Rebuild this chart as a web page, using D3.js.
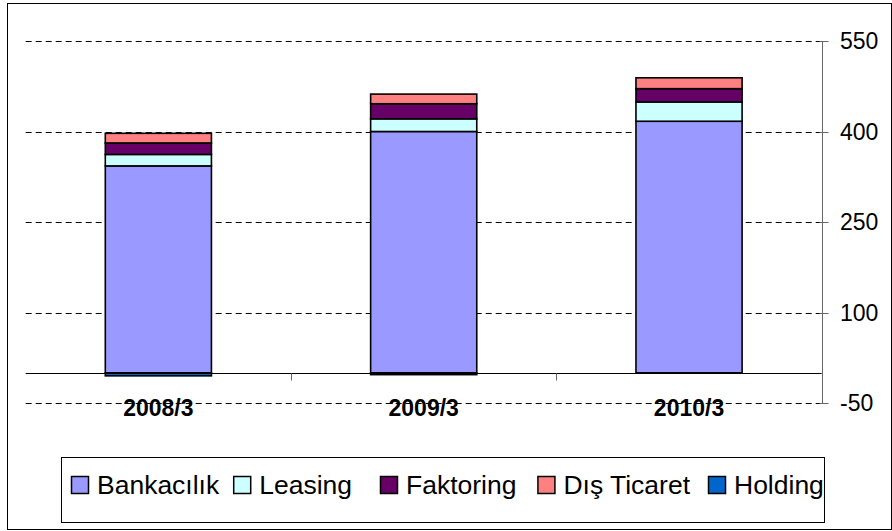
<!DOCTYPE html>
<html>
<head>
<meta charset="utf-8">
<script src="https://cdn.jsdelivr.net/npm/d3@7"></script>
<style>
  html, body { margin: 0; padding: 0; background: #fff; }
  svg { display: block; font-family: "Liberation Sans", Arial, sans-serif; }
</style>
</head>
<body>
<svg id="chart" width="892" height="531"></svg>
<script>
const categories = ["2008/3", "2009/3", "2010/3"];
const seriesNames = ["Bankacılık", "Leasing", "Faktoring", "Dış Ticaret", "Holding"];
const bankacilik = [343, 400, 417];
const leasing = [19, 21, 32];
const faktoring = [19, 25, 22];
const disTicaret = [16, 16, 18];
const holding = [-5, -3, 0];
const tickValues = [-50, 100, 250, 400, 550];
const colors = ["#9999FF", "#CCFFFF", "#660066", "#FF8080", "#0066CC"];

const seriesValues = [bankacilik, leasing, faktoring, disTicaret, holding];
const table = categories.map((c, i) => {
  const row = { cat: c };
  seriesNames.forEach((s, j) => row[s] = seriesValues[j][i]);
  return row;
});

const svg = d3.select("#chart");

// outer border
svg.append("rect").attr("x", 7.5).attr("y", 3.5).attr("width", 884).attr("height", 526)
  .attr("fill", "#fff").attr("stroke", "#000").attr("stroke-width", 1);

const plotLeft = 25.7, plotRight = 821.7;
const x = d3.scaleBand().domain(categories).range([plotLeft, plotRight])
  .paddingInner(0.6).paddingOuter(0.3);
const y = d3.scaleLinear().domain([-50, 550]).range([403, 41]);

// gridlines
svg.append("g").selectAll("line").data(tickValues).join("line")
  .attr("x1", plotLeft).attr("x2", plotRight)
  .attr("y1", d => Math.round(y(d)) + 0.5).attr("y2", d => Math.round(y(d)) + 0.5)
  .attr("stroke", "#000").attr("stroke-width", 1).attr("stroke-dasharray", "6,4");

// stacked bars
const stack = d3.stack().keys(seriesNames).offset(d3.stackOffsetDiverging);
const stacked = stack(table);
svg.append("g").selectAll("g").data(stacked).join("g")
  .attr("fill", (d, i) => colors[i])
  .selectAll("rect").data(d => d).join("rect")
  .attr("x", d => x(d.data.cat))
  .attr("width", x.bandwidth())
  .attr("y", d => y(Math.max(d[0], d[1])))
  .attr("height", d => Math.abs(y(d[0]) - y(d[1])))
  .attr("stroke", "#000").attr("stroke-width", 1.6);

// baseline (category axis)
const y0 = Math.round(y(0)) + 0.5;
svg.append("line").attr("x1", plotLeft).attr("x2", plotRight).attr("y1", y0).attr("y2", y0)
  .attr("stroke", "#000").attr("stroke-width", 1);
const step = x.step();
const catTicks = d3.range(1, categories.length).map(i => plotLeft + i * step);
svg.append("g").selectAll("line").data(catTicks).join("line")
  .attr("x1", d => Math.round(d) + 0.5).attr("x2", d => Math.round(d) + 0.5)
  .attr("y1", y0).attr("y2", y0 + 7).attr("stroke", "#666").attr("stroke-width", 1);

// category labels
svg.append("g").selectAll("text").data(categories).join("text")
  .attr("x", d => x(d) + x.bandwidth() / 2).attr("y", 416)
  .attr("text-anchor", "middle").attr("font-size", 23).attr("font-weight", "bold")
  .attr("fill", "#000").text(d => d);

// right value axis
const axisX = Math.round(plotRight) + 0.5;
svg.append("line").attr("x1", axisX).attr("x2", axisX).attr("y1", y(550)).attr("y2", y(-50))
  .attr("stroke", "#666").attr("stroke-width", 1);
svg.append("g").selectAll("line").data(tickValues).join("line")
  .attr("x1", axisX - 3).attr("x2", axisX + 6)
  .attr("y1", d => Math.round(y(d)) + 0.5).attr("y2", d => Math.round(y(d)) + 0.5)
  .attr("stroke", "#666").attr("stroke-width", 1);
svg.append("g").selectAll("text").data(tickValues).join("text")
  .attr("x", 840).attr("y", d => y(d) + 8)
  .attr("font-size", 23).attr("fill", "#000")
  .text(d => d);

// legend
const lg = svg.append("g");
lg.append("rect").attr("x", 61.5).attr("y", 457.5).attr("width", 763).attr("height", 65)
  .attr("fill", "#fff").attr("stroke", "#000").attr("stroke-width", 1);
let lx = 71;
const stretch = 1.06;
const legendGaps = [14, 28, 21, 18, 0];
seriesNames.forEach((s, i) => {
  lg.append("rect").attr("x", lx + 0.5).attr("y", 476.5).attr("width", 17).attr("height", 17)
    .attr("fill", colors[i]).attr("stroke", "#000").attr("stroke-width", 1.5);
  const t = lg.append("text")
    .attr("transform", `translate(${lx + 26},494) scale(${stretch},1)`)
    .attr("font-size", 25).attr("fill", "#000").text(s);
  const w = t.node().getComputedTextLength() * stretch;
  lx = lx + 26 + w + legendGaps[i];
});
</script>
</body>
</html>
